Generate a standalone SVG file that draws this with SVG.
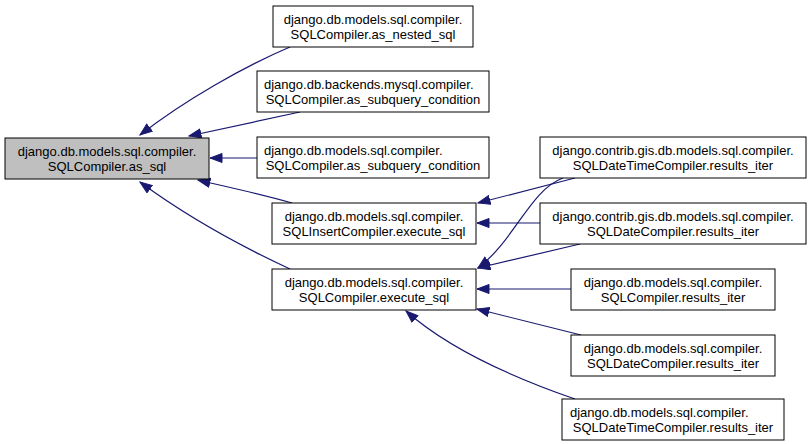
<svg xmlns="http://www.w3.org/2000/svg" width="812" height="444" viewBox="0 0 812 444">
<defs>
<style>
.n rect{fill:#fff;stroke:#000;stroke-width:1}
#n1 rect{fill:#bfbfbf}
text{font-family:"Liberation Sans",Arial,sans-serif;font-size:13px;fill:#000}
.c{text-anchor:middle}
.e path{fill:none;stroke:#191970;stroke-width:1.2;marker-end:url(#ah)}
</style>
<marker id="ah" markerUnits="userSpaceOnUse" markerWidth="14" markerHeight="12" refX="12.5" refY="5" orient="auto" viewBox="0 0 14 12">
<path d="M0.5,0.5 L12.5,5 L0.5,9.5 z" fill="#191970" stroke="#191970"/>
</marker>
</defs>
<rect width="812" height="444" fill="#fff"/>
<g class="e" id="edges">
<path d="M290,47 C245,66 185,100 140,135"/>
<path d="M300,112 L189,136"/>
<path d="M257,158 L210,158"/>
<path d="M292,203 C265,195 232,188 198,180"/>
<path d="M290,269 C232,242 178,210 140,182"/>
<path d="M575,178 L478,203"/>
<path d="M563,178 C530,190 515,240 478,268"/>
<path d="M540,223 L477,223"/>
<path d="M580,244 L478,268"/>
<path d="M571,289 L477,289"/>
<path d="M581,335 L477,309"/>
<path d="M575,399 C520,380 450,350 406,311"/>
</g>
<g class="n" id="n1"><rect x="5" y="138" width="204" height="41"/><text class="c" x="107" y="155.5">django.db.models.sql.compiler.</text><text class="c" x="107" y="170.5">SQLCompiler.as_sql</text></g>
<g class="n" id="n2"><rect x="273" y="6" width="200" height="41"/><text class="c" x="373" y="23.5">django.db.models.sql.compiler.</text><text class="c" x="373" y="38.5">SQLCompiler.as_nested_sql</text></g>
<g class="n" id="n3"><rect x="257" y="71" width="232" height="41"/><text x="264" y="88.5">django.db.backends.mysql.compiler.</text><text class="c" x="373" y="103.5">SQLCompiler.as_subquery_condition</text></g>
<g class="n" id="n4"><rect x="257" y="137" width="232" height="41"/><text x="264" y="154.5">django.db.models.sql.compiler.</text><text class="c" x="373" y="169.5">SQLCompiler.as_subquery_condition</text></g>
<g class="n" id="n5"><rect x="272" y="203" width="204" height="41"/><text class="c" x="374" y="220.5">django.db.models.sql.compiler.</text><text class="c" x="374" y="235.5">SQLInsertCompiler.execute_sql</text></g>
<g class="n" id="n6"><rect x="272" y="269" width="204" height="41"/><text class="c" x="374" y="286.5">django.db.models.sql.compiler.</text><text class="c" x="374" y="301.5">SQLCompiler.execute_sql</text></g>
<g class="n" id="n7"><rect x="540" y="137" width="266" height="41"/><text class="c" x="673" y="154.5">django.contrib.gis.db.models.sql.compiler.</text><text class="c" x="673" y="169.5">SQLDateTimeCompiler.results_iter</text></g>
<g class="n" id="n8"><rect x="540" y="203" width="266" height="41"/><text class="c" x="673" y="220.5">django.contrib.gis.db.models.sql.compiler.</text><text class="c" x="673" y="235.5">SQLDateCompiler.results_iter</text></g>
<g class="n" id="n9"><rect x="571" y="269" width="204" height="41"/><text class="c" x="673" y="286.5">django.db.models.sql.compiler.</text><text class="c" x="673" y="301.5">SQLCompiler.results_iter</text></g>
<g class="n" id="n10"><rect x="571" y="335" width="204" height="41"/><text class="c" x="673" y="352.5">django.db.models.sql.compiler.</text><text class="c" x="673" y="367.5">SQLDateCompiler.results_iter</text></g>
<g class="n" id="n11"><rect x="562" y="399" width="222" height="41"/><text x="570" y="416.5">django.db.models.sql.compiler.</text><text class="c" x="673" y="431.5">SQLDateTimeCompiler.results_iter</text></g>
</svg>
